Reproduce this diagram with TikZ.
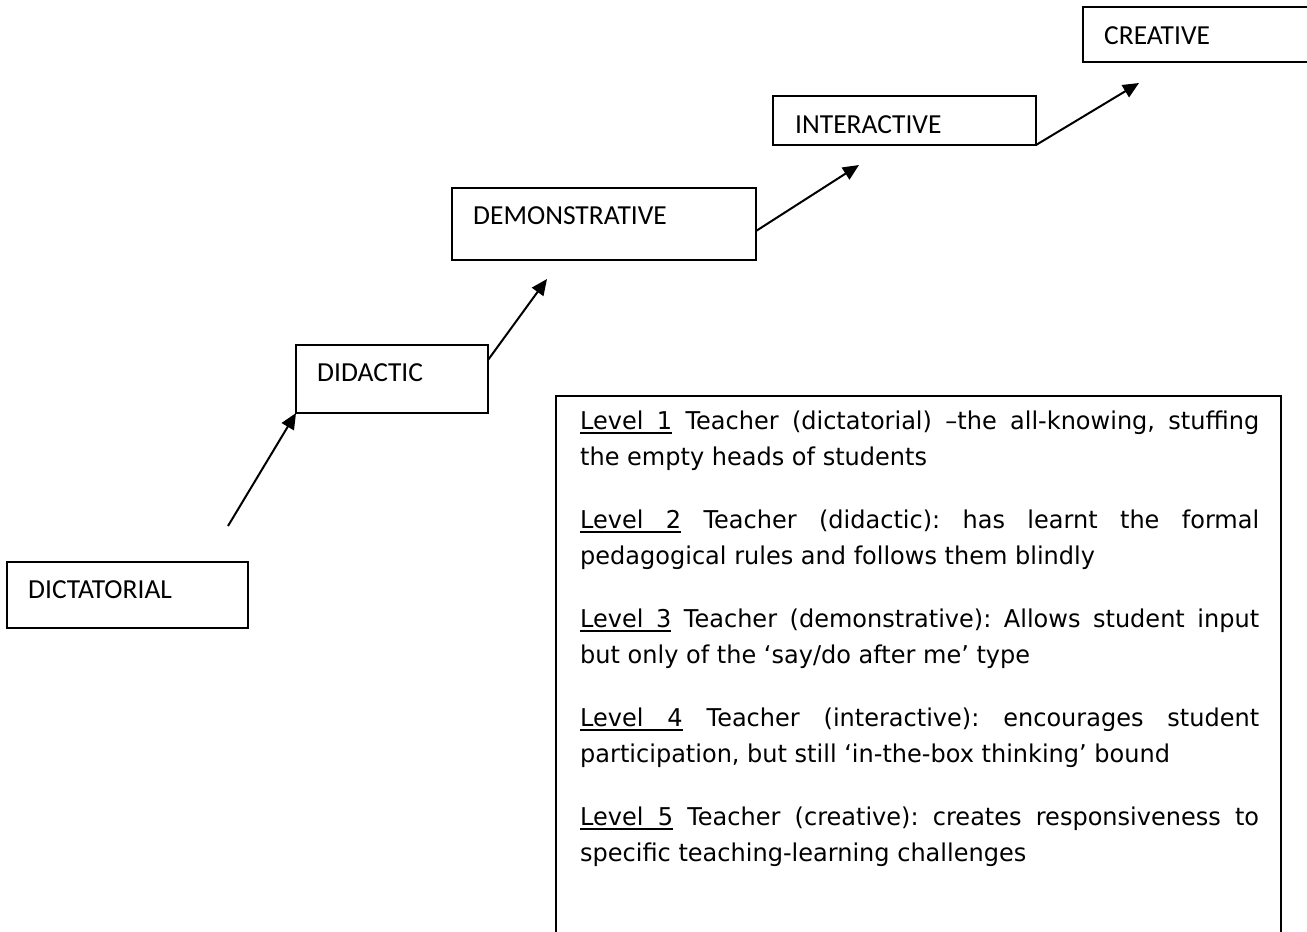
\documentclass[tikz,border=0pt]{standalone}
\usepackage{fontspec}
\setmainfont{Carlito}
\newfontfamily\levelfont[FakeStretch=0.98]{DejaVu Sans}
\usetikzlibrary{arrows.meta,calc}

% underlined word, and an underlined interword space that still stretches
\newcommand{\ulword}[1]{\setbox0\hbox{#1}\rlap{\rule[-4.5pt]{\wd0}{1.8pt}}\box0\relax}
\newcommand{\ulspace}{\leaders\hrule height -2.7pt depth 4.5pt\hskip\fontdimen2\font plus\fontdimen3\font minus\fontdimen4\font\relax}
\newcommand{\lvl}[1]{\leavevmode\ulword{Level}\ulspace\ulword{#1}}

\begin{document}
\begin{tikzpicture}[x=1pt,y=-1pt,
  stagebox/.style={draw, line width=2pt, inner sep=0pt, outer sep=0pt, anchor=north west},
  stagelabel/.style={anchor=base west, inner sep=0pt, font=\fontsize{27.5}{33}\selectfont},
  arrowline/.style={line width=2pt, -{Triangle[length=16pt,width=14pt]}},
  levelsbox/.style={draw, line width=2pt, inner sep=0pt, outer sep=0pt, anchor=north west},
  levelstext/.style={anchor=north west, inner sep=0pt, text width=679pt, align=justify,
    font=\levelfont\fontsize{24.5}{36}\selectfont}
]
\useasboundingbox (0,0) rectangle (1307,932);
\fill[white] (0,0) rectangle (1307,932);
\clip (0,0) rectangle (1307,932);

% stage boxes, climbing from left to right
\node[stagebox, minimum width=241pt, minimum height=66pt] (dict) at (7,562) {};
\node[stagebox, minimum width=192pt, minimum height=68pt] (dida) at (296,345) {};
\node[stagebox, minimum width=304pt, minimum height=72pt] (demo) at (452,188) {};
\node[stagebox, minimum width=263pt, minimum height=49pt] (inter) at (773,96) {};
\node[stagebox, minimum width=300pt, minimum height=55pt] (crea) at (1083,7) {};

\node[stagelabel] (dictl)  at ($(dict.north west)+(21,36)$)  {DICTATORIAL};
\node[stagelabel] (didal)  at ($(dida.north west)+(21,36)$)  {DIDACTIC};
\node[stagelabel] (demol)  at ($(demo.north west)+(21,36)$)  {DEMONSTRATIVE};
\node[stagelabel] (interl) at ($(inter.north west)+(22,37)$) {INTERACTIVE};
\node[stagelabel] (creal)  at ($(crea.north west)+(21,37)$)  {CREATIVE};

% arrows between the stages
\coordinate (a1s) at (228,526);
\coordinate (a2e) at (547,279);
\coordinate (a3e) at (859,165);
\coordinate (a4e) at (1139,83);
\draw[arrowline] (a1s) -- (dida.south west);
\draw[arrowline] ([yshift=19pt]dida.east) -- (a2e);
\draw[arrowline] ([yshift=-7pt]demo.east) -- (a3e);
\draw[arrowline] (inter.south east) -- (a4e);

% description of the five levels
\node[levelsbox, minimum width=725pt, minimum height=600pt] (levels) at (556,396) {};
\node[levelstext] (levelst) at (580,399) {%
  \setlength{\parindent}{0pt}\setlength{\parskip}{27pt}\frenchspacing
  \tolerance=10000 \hyphenpenalty=10000 \exhyphenpenalty=10000
  \rule{0pt}{30pt}\lvl{1} Teacher (dictatorial) –the all-knowing, stuffing\linebreak
  the empty heads of students\par
  \lvl{2} Teacher (didactic): has learnt the formal\linebreak
  pedagogical rules and follows them blindly\par
  \lvl{3} Teacher (demonstrative): Allows student input\linebreak
  but only of the ‘say/do after me’ type\par
  \lvl{4} Teacher (interactive): encourages student\linebreak
  participation, but still ‘in-the-box thinking’ bound\par
  \lvl{5} Teacher (creative): creates responsiveness to\linebreak
  specific teaching-learning challenges\par};
\end{tikzpicture}
\end{document}
